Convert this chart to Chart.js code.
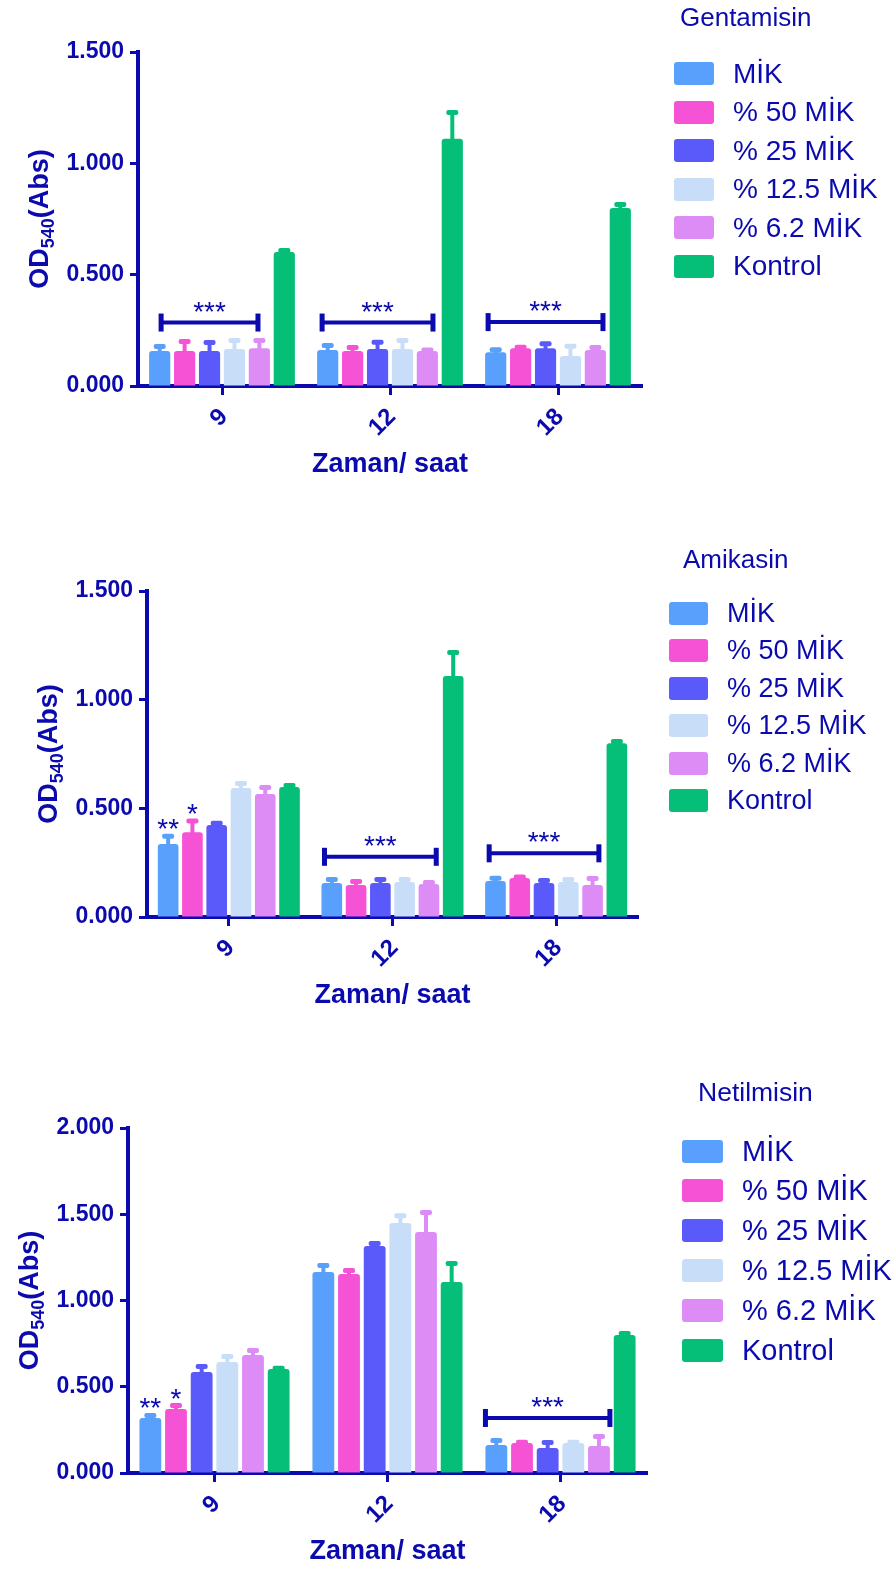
<!DOCTYPE html>
<html>
<head>
<meta charset="utf-8">
<script src="https://cdn.jsdelivr.net/npm/chart.js@4.4.1/dist/chart.umd.min.js"></script>
<style>
  body { margin: 0; background: #fff; width: 895px; height: 1570px; position: relative; overflow: hidden;
         font-family: 'Liberation Sans', Arial, sans-serif; color: #0a0aae; }
  .panel { position: absolute; left: 0; }
  .lg-title { position: absolute; white-space: nowrap; line-height: 1; }
  .lg-item { position: absolute; height: 40px; display: flex; align-items: center; white-space: nowrap; }
  .lg-box { height: 23px; border-radius: 3px; flex: none; }
</style>
</head>
<body>
<div class="panel" style="top:0"><canvas id="genta" width="895" height="520"></canvas></div>
<div class="panel" style="top:530px"><canvas id="ami" width="895" height="520"></canvas></div>
<div class="panel" style="top:1060px"><canvas id="netil" width="895" height="510"></canvas></div>
<div id="legends"></div>
<script>
const hours = ['9', '12', '18'];
const groupNames = ['MİK', '% 50 MİK', '% 25 MİK', '% 12.5 MİK', '% 6.2 MİK', 'Kontrol'];

// OD540 means, one row per group, columns = 9 / 12 / 18 h
const gentaMean = [
  [0.157, 0.162, 0.152],
  [0.157, 0.157, 0.170],
  [0.157, 0.166, 0.170],
  [0.166, 0.166, 0.135],
  [0.170, 0.157, 0.162],
  [0.602, 1.110, 0.799],
];
const gentaErr = [
  [0.020, 0.020, 0.011],
  [0.043, 0.016, 0.004],
  [0.038, 0.030, 0.020],
  [0.038, 0.038, 0.043],
  [0.034, 0.005, 0.011],
  [0.007, 0.118, 0.016],
];

const amiMean = [
  [0.336, 0.156, 0.166],
  [0.390, 0.147, 0.180],
  [0.423, 0.156, 0.156],
  [0.593, 0.161, 0.161],
  [0.566, 0.152, 0.147],
  [0.598, 1.109, 0.800],
];
const amiErr = [
  [0.035, 0.016, 0.012],
  [0.052, 0.016, 0.004],
  [0.008, 0.016, 0.012],
  [0.021, 0.012, 0.012],
  [0.030, 0.007, 0.030],
  [0.007, 0.108, 0.008],
];

const netilMean = [
  [0.319, 1.165, 0.162],
  [0.371, 1.154, 0.174],
  [0.586, 1.316, 0.145],
  [0.643, 1.449, 0.174],
  [0.684, 1.397, 0.157],
  [0.603, 1.107, 0.800],
];
const netilErr = [
  [0.015, 0.038, 0.026],
  [0.020, 0.020, 0.004],
  [0.032, 0.015, 0.032],
  [0.032, 0.043, 0.004],
  [0.026, 0.113, 0.055],
  [0.004, 0.107, 0.009],
];

// significance brackets (over the five MİK groups) and single-bar stars
const gentaBrackets = [
  { hour: 0, level: 0.285, mark: '***' },
  { hour: 1, level: 0.285, mark: '***' },
  { hour: 2, level: 0.287, mark: '***' },
];
const amiBrackets = [
  { hour: 1, level: 0.277, mark: '***' },
  { hour: 2, level: 0.293, mark: '***' },
];
const netilBrackets = [
  { hour: 2, level: 0.319, mark: '***' },
];
const amiStars = [
  { group: 0, hour: 0, mark: '**' },
  { group: 1, hour: 0, mark: '*' },
];
const netilStars = [
  { group: 0, hour: 0, mark: '**' },
  { group: 1, hour: 0, mark: '*' },
];

const BLUE = '#0a0aae';
const FONT = "'Liberation Sans', Arial, sans-serif";
const seriesColors = ['#58a0fc', '#f652d6', '#5a5afa', '#c8ddf8', '#de8cf5', '#05be78'];

function overlay(errs, brackets, stars, insets) {
  return {
    id: 'overlay',
    afterDatasetsDraw(chart) {
      const { ctx, scales: { y } } = chart;
      ctx.save();
      // error bars (upper only)
      chart.data.datasets.forEach((ds, di) => {
        ctx.strokeStyle = ds.backgroundColor;
        ctx.fillStyle = ds.backgroundColor;
        chart.getDatasetMeta(di).data.forEach((bar, i) => {
          const top = y.getPixelForValue(ds.data[i] + errs[di][i]);
          ctx.lineWidth = 4;
          ctx.beginPath();
          ctx.moveTo(bar.x, bar.y + 2);
          ctx.lineTo(bar.x, top);
          ctx.stroke();
          ctx.beginPath();
          ctx.roundRect(bar.x - 6, top - 2.5, 12, 5, 2);
          ctx.fill();
        });
      });
      ctx.fillStyle = BLUE;
      ctx.strokeStyle = BLUE;
      ctx.font = '28px ' + FONT;
      ctx.textAlign = 'center';
      ctx.textBaseline = 'alphabetic';
      brackets.forEach((b, k) => {
        const first = chart.getDatasetMeta(0).data[b.hour];
        const last = chart.getDatasetMeta(4).data[b.hour];
        const x1 = first.x - first.width / 2 + insets[k];
        const x2 = last.x + last.width / 2 - insets[k];
        const yy = y.getPixelForValue(b.level);
        ctx.lineWidth = 4;
        ctx.beginPath();
        ctx.moveTo(x1, yy);
        ctx.lineTo(x2, yy);
        ctx.stroke();
        ctx.fillRect(x1 - 2.5, yy - 9, 5, 18);
        ctx.fillRect(x2 - 2.5, yy - 9, 5, 18);
        ctx.fillText(b.mark, (x1 + x2) / 2, yy - 2);
      });
      stars.forEach(s => {
        const bar = chart.getDatasetMeta(s.group).data[s.hour];
        const v = chart.data.datasets[s.group].data[s.hour] + errs[s.group][s.hour];
        ctx.fillText(s.mark, bar.x, y.getPixelForValue(v) + 2);
      });
      ctx.restore();
    },
    afterDraw(chart) {
      // y title with subscript: OD540(Abs)
      const { ctx, chartArea } = chart;
      const big = 'bold 27px ' + FONT, small = 'bold 18px ' + FONT;
      ctx.save();
      ctx.translate(chartArea.left - 100, (chartArea.top + chartArea.bottom) / 2);
      ctx.rotate(-Math.PI / 2);
      ctx.fillStyle = BLUE;
      ctx.textAlign = 'left';
      ctx.textBaseline = 'alphabetic';
      ctx.font = big;
      const w1 = ctx.measureText('OD').width, w3 = ctx.measureText('(Abs)').width;
      ctx.font = small;
      const w2 = ctx.measureText('540').width;
      let x = -(w1 + w2 + w3) / 2;
      const base = 9.5;
      ctx.font = big;
      ctx.fillText('OD', x, base);
      x += w1;
      ctx.font = small;
      ctx.fillText('540', x, base + 6);
      x += w2;
      ctx.font = big;
      ctx.fillText('(Abs)', x, base);
      ctx.restore();
    },
  };
}

function buildChart(id, means, errs, yMax, geo, brackets, stars, insets) {
  return new Chart(document.getElementById(id), {
    type: 'bar',
    data: {
      labels: hours,
      datasets: groupNames.map((name, i) => ({
        label: name,
        data: means[i],
        backgroundColor: seriesColors[i],
        borderRadius: 3,
        borderSkipped: 'start',
        barPercentage: 0.85,
        categoryPercentage: 0.89,
      })),
    },
    options: {
      responsive: false,
      animation: false,
      layout: { padding: { left: 0, top: geo.top, right: 895 - geo.right, bottom: 0 } },
      plugins: { legend: { display: false }, tooltip: { enabled: false } },
      scales: {
        x: {
          afterFit: (s) => { s.height = geo.height - geo.bottom; },
          grid: { offset: false, drawOnChartArea: false, tickLength: 9, tickWidth: 3, tickColor: BLUE },
          border: { color: BLUE, width: 4 },
          ticks: {
            color: BLUE, font: { family: FONT, size: 24, weight: 'bold' },
            minRotation: 45, maxRotation: 45, padding: 8, labelOffset: 2,
          },
          title: {
            display: true, text: 'Zaman/ saat', color: BLUE,
            font: { family: FONT, size: 27, weight: 'bold' },
            padding: { top: 0, bottom: geo.height - geo.bottom - 79 - 16.2 },
          },
        },
        y: {
          min: 0,
          max: yMax,
          afterFit: (s) => { s.width = geo.left; },
          grid: { drawOnChartArea: false, tickLength: 8, tickWidth: 3, tickColor: BLUE },
          border: { color: BLUE, width: 4 },
          ticks: {
            stepSize: 0.5, padding: 6, color: BLUE,
            font: { family: FONT, size: 23, weight: 'bold' },
            callback: (v) => v.toFixed(3),
          },
        },
      },
    },
    plugins: [overlay(errs, brackets, stars, insets)],
  });
}

buildChart('genta', gentaMean, gentaErr, 1.5,
  { left: 138, right: 642, top: 52, bottom: 386, height: 520 }, gentaBrackets, [], [12, 5, 3]);
buildChart('ami', amiMean, amiErr, 1.5,
  { left: 147, right: 638, top: 61, bottom: 387, height: 520 }, amiBrackets, amiStars, [3, 4]);
buildChart('netil', netilMean, netilErr, 2.0,
  { left: 128, right: 647, top: 68, bottom: 413, height: 510 }, netilBrackets, netilStars, [0]);

// HTML legends
const legendTitles = ['Gentamisin', 'Amikasin', 'Netilmisin'];
const legendGeo = [
  { titleLeft: 680, titleY: 17, titleSize: 26, boxLeft: 674, boxW: 40, textLeft: 733, firstY: 73.7, step: 38.5, size: 28 },
  { titleLeft: 683, titleY: 559, titleSize: 26, boxLeft: 669, boxW: 39, textLeft: 727, firstY: 613, step: 37.5, size: 27 },
  { titleLeft: 698, titleY: 1092, titleSize: 26.5, boxLeft: 682, boxW: 41, textLeft: 742, firstY: 1151, step: 39.8, size: 29 },
];
let html = '';
legendTitles.forEach((title, k) => {
  const g = legendGeo[k];
  html += `<div class="lg-title" style="left:${g.titleLeft}px;top:${g.titleY - g.titleSize / 2}px;font-size:${g.titleSize}px">${title}</div>`;
  groupNames.forEach((name, i) => {
    html += `<div class="lg-item" style="left:${g.boxLeft}px;top:${g.firstY + i * g.step - 20}px;font-size:${g.size}px">` +
      `<span class="lg-box" style="width:${g.boxW}px;background:${seriesColors[i]};margin-right:${g.textLeft - g.boxLeft - g.boxW}px"></span>` +
      `<span>${name}</span></div>`;
  });
});
document.getElementById('legends').innerHTML = html;
</script>
</body>
</html>
